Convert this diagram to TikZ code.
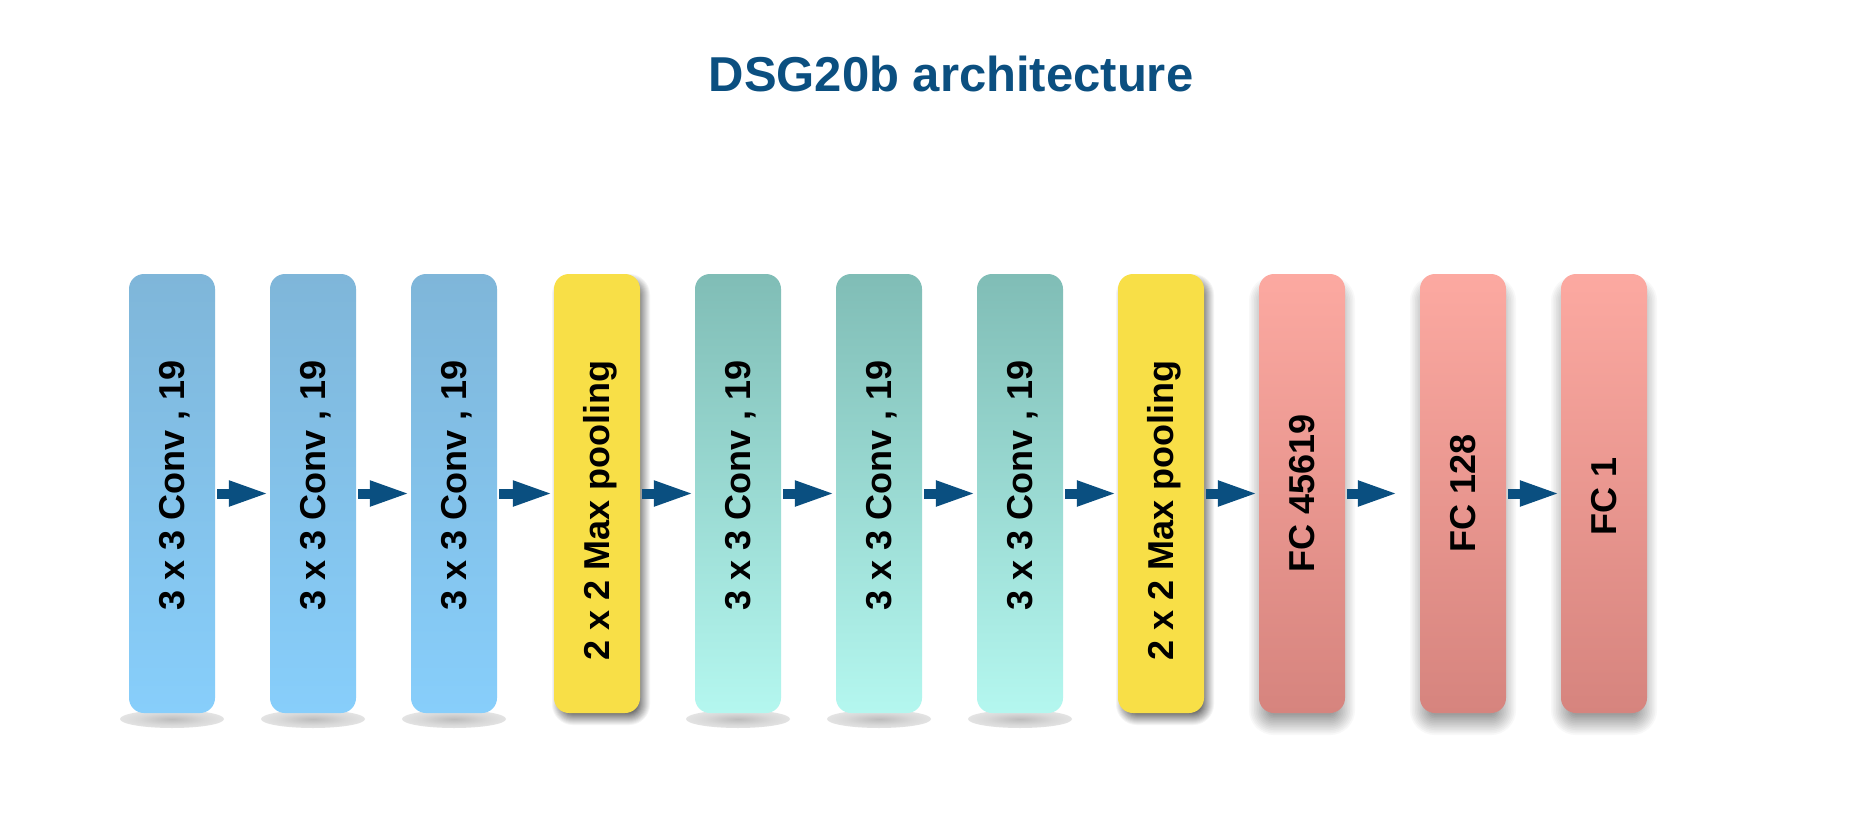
\documentclass[tikz,border=0pt]{standalone}
\usepackage{fontspec}
\setmainfont{Liberation Sans}
\usetikzlibrary{arrows.meta}
\definecolor{arrowblue}{HTML}{0A4F80}
\definecolor{titleblue}{HTML}{0B4F80}
\definecolor{convAtop}{HTML}{7FB6D9}
\definecolor{convAbot}{HTML}{87CEFB}
\definecolor{convBtop}{HTML}{80BDB6}
\definecolor{convBbot}{HTML}{B4F7EF}
\definecolor{poolfill}{HTML}{F8DF47}
\definecolor{fctop}{HTML}{FCA9A1}
\definecolor{fcbot}{HTML}{D6847E}
\pgfdeclareradialshading{softshadow}{\pgfpoint{0bp}{0bp}}{color(0bp)=(black!26); color(16bp)=(black!15); color(50bp)=(white)}
% layered soft shadow: cx, cy, half width, half height, blur, max percent
\newcommand\shadowstack[6]{%
  \foreach \j in {0,...,12}{%
    \pgfmathsetmacro\ee{#5-2*#5*\j/12}%
    \pgfmathsetmacro\pc{#6*(\j+1)/13}%
    \pgfmathsetmacro\rc{max(1,15+\ee)}%
    \fill[black!\pc, rounded corners=\rc pt] (#1-#3-\ee, #2-#4-\ee) rectangle (#1+#3+\ee, #2+#4+\ee);
  }}
\begin{document}
\begin{tikzpicture}[x=1pt,y=-1pt,
  box/.style={rectangle, rounded corners=15pt, minimum width=86pt, minimum height=439pt, inner sep=0pt, draw=none},
  convA/.style={box, top color=convAtop, bottom color=convAbot},
  convB/.style={box, top color=convBtop, bottom color=convBbot},
  pool/.style={box, fill=poolfill},
  fc/.style={box, top color=fctop, bottom color=fcbot},
  lbl/.style={rotate=90, font=\fontsize{36}{36}\selectfont\bfseries, text height=25.8pt, text depth=0pt, inner sep=0pt},
  link/.style={-{Triangle[length=41pt,width=23pt]}, line width=10pt, arrowblue, shorten <=2pt},
  ttl/.style={font=\fontsize{49}{49}\selectfont\bfseries, text=titleblue, anchor=base, inner sep=0pt}
]
\fill[white] (0,0) rectangle (1850,832);
\useasboundingbox (0,0) rectangle (1850,832);

\node[ttl] (title) at (951,92) {DSG20b architecture};

% soft floor shadows of the conv boxes
\foreach \cx in {172,313,454,738,879,1020}{
  \shade[shading=softshadow] (\cx,719) ellipse (52pt and 9pt);
}
% drop shadows of pooling and FC boxes
\foreach \cx in {597,1161}{
  \shadowstack{\cx+4}{499.5}{43}{219.5}{6}{55}
}
\foreach \cx in {1302,1463,1604}{
  \shadowstack{\cx}{505.5}{43}{219.5}{10}{38}
}

\node[convA] (c1) at (172,493.5) {};
\node[convA] (c2) at (313,493.5) {};
\node[convA] (c3) at (454,493.5) {};
\node[pool]  (p1) at (597,493.5) {};
\node[convB] (c4) at (738,493.5) {};
\node[convB] (c5) at (879,493.5) {};
\node[convB] (c6) at (1020,493.5) {};
\node[pool]  (p2) at (1161,493.5) {};
\node[fc]    (f1) at (1302,493.5) {};
\node[fc]    (f2) at (1463,493.5) {};
\node[fc]    (f3) at (1604,493.5) {};

\node[lbl, anchor=east] (t1) at (172,360) {3 x 3 Conv , 19};
\node[lbl, anchor=east] (t2) at (313,360) {3 x 3 Conv , 19};
\node[lbl, anchor=east] (t3) at (454,360) {3 x 3 Conv , 19};
\node[lbl, anchor=east] (t4) at (597,360) {2 x 2 Max pooling};
\node[lbl, anchor=east] (t5) at (738,360) {3 x 3 Conv , 19};
\node[lbl, anchor=east] (t6) at (879,360) {3 x 3 Conv , 19};
\node[lbl, anchor=east] (t7) at (1020,360) {3 x 3 Conv , 19};
\node[lbl, anchor=east] (t8) at (1161,360) {2 x 2 Max pooling};
\node[lbl] (t9) at (1302,493.5) {FC 45619};
\node[lbl] (t10) at (1463,493.5) {FC 128};
\node[lbl] (t11) at (1604,496) {FC 1};

\draw[link] (c1.east) -- (c2.west);
\draw[link] (c2.east) -- (c3.west);
\draw[link] (c3.east) -- (p1.west);
\draw[link] (p1.east) -- (c4.west);
\draw[link] (c4.east) -- (c5.west);
\draw[link] (c5.east) -- (c6.west);
\draw[link] (c6.east) -- (p2.west);
\draw[link] (p2.east) -- (f1.west);
\draw[link, shorten >=21pt] (f1.east) -- (f2.west);
\draw[link] (f2.east) -- (f3.west);
\end{tikzpicture}
\end{document}
